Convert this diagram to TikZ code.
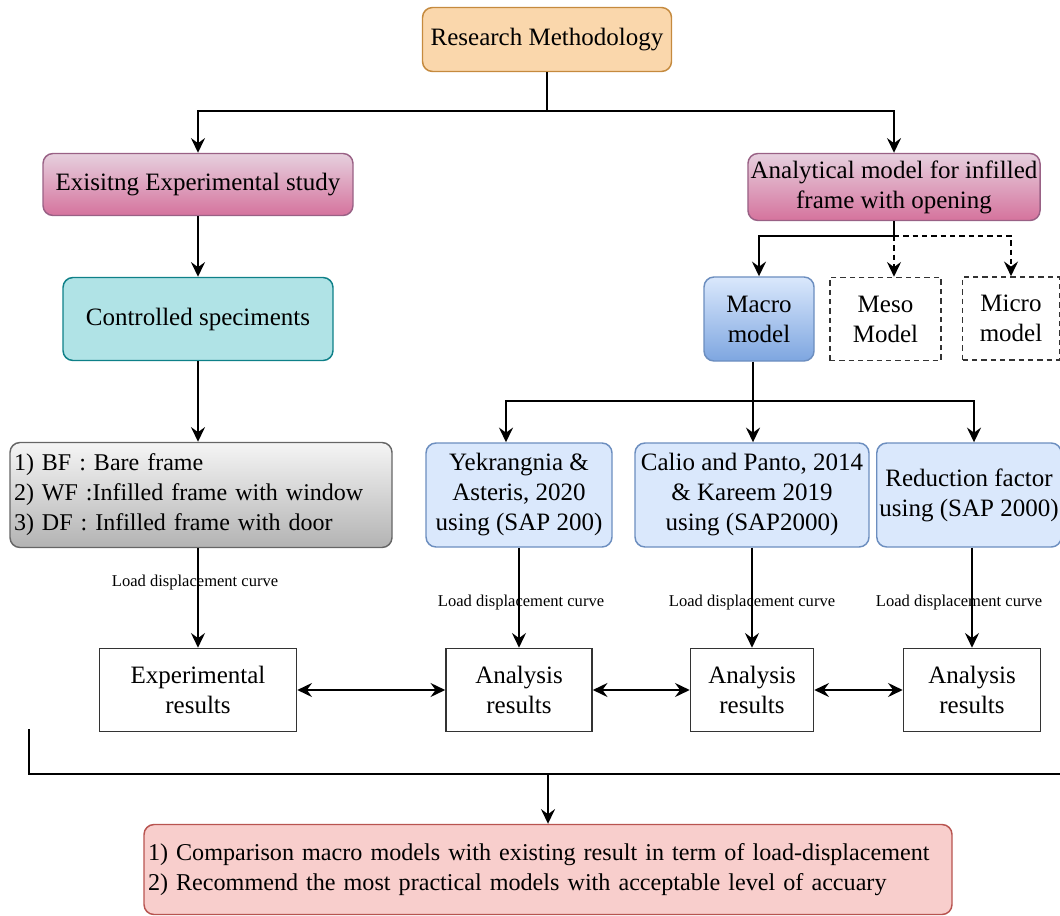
\documentclass[tikz,border=0pt]{standalone}
\usepackage{fontspec}
\setmainfont{Liberation Serif}
\usetikzlibrary{arrows.meta,calc}

\definecolor{orangefill}{HTML}{FAD7AC}
\definecolor{orangeline}{HTML}{C58A3E}
\definecolor{pinktop}{HTML}{E6D0DE}
\definecolor{pinkbot}{HTML}{D5739D}
\definecolor{pinkline}{HTML}{996185}
\definecolor{tealfill}{HTML}{B0E3E6}
\definecolor{tealline}{HTML}{0E8088}
\definecolor{graytop}{HTML}{F5F5F5}
\definecolor{graybot}{HTML}{B3B3B3}
\definecolor{grayline}{HTML}{666666}
\definecolor{bluefill}{HTML}{DAE8FC}
\definecolor{bluebot}{HTML}{7EA6E0}
\definecolor{blueline}{HTML}{6C8EBF}
\definecolor{redfill}{HTML}{F8CECC}
\definecolor{redline}{HTML}{B85450}
\definecolor{darkline}{HTML}{333333}

\tikzset{
  wh/.style 2 args={minimum width=#1*0.75pt, minimum height=#2*0.75pt},
  rbox/.style={rounded corners=7.5pt, line width=1.1pt},
  orangebox/.style={rbox, fill=orangefill, draw=orangeline},
  pinkbox/.style={rbox, top color=pinktop, bottom color=pinkbot, draw=pinkline},
  tealbox/.style={rbox, fill=tealfill, draw=tealline},
  graybox/.style={rbox, top color=graytop, bottom color=graybot, draw=grayline},
  macrobox/.style={rbox, top color=bluefill, bottom color=bluebot, draw=blueline},
  bluebox/.style={rbox, fill=bluefill, draw=blueline},
  redbox/.style={rbox, fill=redfill, draw=redline},
  dashbox/.style={draw=darkline, line width=1.2pt, dash pattern=on 4pt off 3pt},
  resbox/.style={draw=darkline, fill=white, line width=1.2pt},
  conn/.style={line width=1.5pt, black},
  arr/.style={conn, -{Stealth[length=11pt, width=10.5pt, inset=3.8pt]}},
  dbl/.style={conn, {Stealth[length=11pt, width=10.5pt, inset=3.8pt]}-{Stealth[length=11pt, width=10.5pt, inset=3.8pt]}},
  lab/.style={font=\fontsize{12.4}{14}\selectfont, inner sep=0pt},
  mainfont/.style={font=\fontsize{18.75}{22.5}\selectfont, inner sep=2pt, align=center},
  listfont/.style={font=\fontsize{18}{22.5}\selectfont},
  bottomfont/.style={font=\fontsize{18.1}{22.5}\selectfont}
}

\begin{document}
\begin{tikzpicture}[x=0.75pt, y=-0.75pt, every node/.style={mainfont}]
\useasboundingbox (0,0) rectangle (1060,916);

% top level
\node[orangebox, wh={249}{64}] (rm) at (547,39.5) {Research Methodology};
\node[pinkbox, wh={310}{62}] (exp) at (198,184.5) {Exisitng Experimental study};
\node[pinkbox, wh={290}{67}] (ana) at (894,187) {Analytical model for infilled\\frame with opening};

% experimental branch
\node[tealbox, wh={270}{83}] (ctl) at (198,319) {Controlled speciments};
\node[graybox, listfont, wh={382}{105}, text width=374*0.75pt, inner xsep=0pt, align=left] (bf) at (201,495)
  {1) BF : Bare frame\\2) WF :Infilled frame with window\\3) DF : Infilled frame with door};

% model types
\node[macrobox, wh={110}{84}] (macro) at (759,319) {Macro\\model};
\node[dashbox, wh={111}{83}] (meso) at (885.5,319) {Meso\\Model};
\node[dashbox, wh={97}{83}] (micro) at (1011,318.5) {Micro\\model};

% macro models
\node[bluebox, wh={186}{104}] (yek) at (519,495) {Yekrangnia \&\\Asteris, 2020\\using (SAP 200)};
\node[bluebox, wh={234}{104}] (cal) at (752,495) {Calio and Panto, 2014\\\& Kareem 2019\\using (SAP2000)};
\node[bluebox, wh={181}{104}] (red) at (969,495) {Reduction factor\\using (SAP 2000)};

% results
\node[resbox, wh={197}{83}] (er) at (198,690) {Experimental\\results};
\node[resbox, wh={146}{83}] (ar1) at (519,690) {Analysis\\results};
\node[resbox, wh={123}{83}] (ar2) at (752,690) {Analysis\\results};
\node[resbox, wh={137}{83}] (ar3) at (972,690) {Analysis\\results};

% conclusion
\node[redbox, bottomfont, wh={808}{90}, text width=800*0.75pt, inner xsep=0pt, align=left] (bot) at (548,869.5)
  {1) Comparison macro models with existing result in term of load-displacement\\2) Recommend the most practical models with acceptable level of accuary};

% connectors: top split
\coordinate (tsplit) at (547,111);
\draw[conn] (rm.south) -- (tsplit);
\draw[arr] (tsplit) -| (exp.north);
\draw[arr] (tsplit) -| (ana.north);

% experimental chain
\draw[arr] (exp.south) -- (ctl.north);
\draw[arr] (ctl.south) -- (ctl.south |- bf.north);
\draw[arr] (er.north |- bf.south) -- (er.north)
  node[lab, pos=0.34, xshift=-2.2pt] {Load displacement curve};

% analytical split
\coordinate (asplit) at (894,236);
\draw[conn] (ana.south) -- (asplit);
\draw[arr] (asplit) -| (macro.north);
\draw[arr, dash pattern=on 4pt off 3pt] (asplit) -- (asplit |- meso.north);
\draw[arr, dash pattern=on 4pt off 3pt] (asplit) -| (micro.north);

% macro split
\coordinate (msplit) at (753,401);
\draw[conn] (macro.south -| msplit) -- (msplit);
\draw[arr] (msplit) -- (msplit |- cal.north);
\draw[arr] (msplit) -| ([xshift=-9.75pt]yek.north);
\draw[arr] (msplit) -| ([xshift=3.75pt]red.north);

% macro models to results
\draw[arr] (yek.south) -- (ar1.north)
  node[lab, pos=0.55, xshift=1.5pt] {Load displacement curve};
\draw[arr] (cal.south) -- (cal.south |- ar2.north)
  node[lab, pos=0.55] {Load displacement curve};
\draw[arr] (red.south -| ar3.north) -- (ar3.north)
  node[lab, pos=0.55, xshift=-9.75pt] {Load displacement curve};

% comparisons between results
\draw[dbl] (er.east) -- (ar1.west);
\draw[dbl] (ar1.east) -- (ar2.west);
\draw[dbl] (ar2.east) -- (ar3.west);

% gathering bracket
\coordinate (bl) at (29,729);
\coordinate (br) at (1062,774);
\draw[conn] (bl) |- (br);
\draw[arr] (bot.north |- br) -- (bot.north);
\end{tikzpicture}
\end{document}
